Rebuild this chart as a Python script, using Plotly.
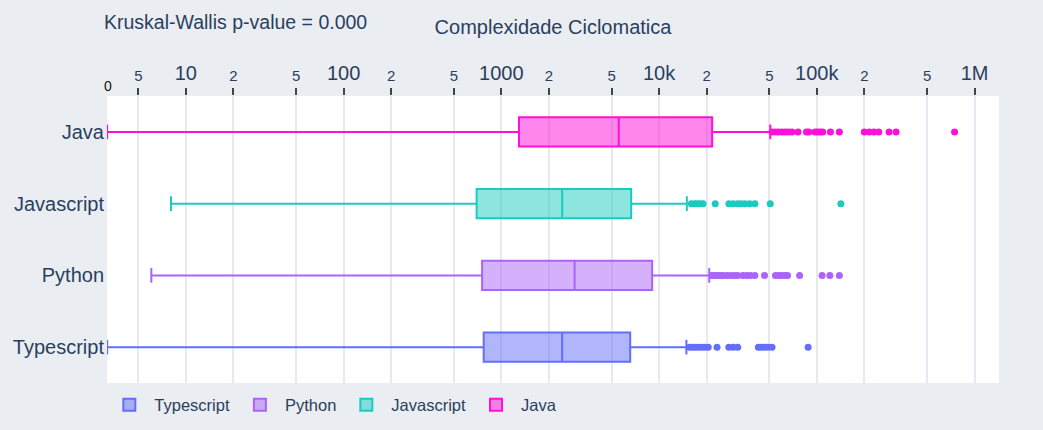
import plotly.graph_objects as go

# ---- data ----
languages = ["Typescript", "Python", "Javascript", "Java"]
colors = ["#636EFA", "#AB63FA", "#1ACBBE", "#FF10D9"]

lowerfence = [3.17, 6.04, 8.05, 3.17]
q1 = [773, 755, 697, 1294]
median = [2430, 2915, 2430, 5550]
q3 = [6560, 9040, 6650, 21700]
upperfence = [14900, 20800, 15000, 50700]

outliers_typescript = [15600, 16300, 17000, 17800, 18600, 19500, 20500, 23300, 27700, 29500,
                       31500, 42600, 44500, 46500, 49000, 52000, 88100]
outliers_python = [21600, 22500, 23500, 24500, 25500, 27000, 28500, 30000, 31500, 34000, 36000,
                   38000, 40500, 46600, 54700, 57500, 60000, 63000, 65200, 77800, 108000, 121000, 139000]
outliers_javascript = [16000, 16800, 17500, 18200, 19000, 22700, 27700, 29500, 31500, 33000,
                       35000, 37500, 40500, 50700, 142000]
outliers_java = [52000, 54500, 57000, 60000, 63000, 66000, 69500, 76000, 86000, 89000, 97500,
                 101000, 105000, 109000, 122000, 139000, 200000, 215000, 230000, 247000, 287000,
                 318000, 747000]
outliers = [outliers_typescript, outliers_python, outliers_javascript, outliers_java]

p_value_text = "Kruskal-Wallis p-value = 0.000"
axis_title = "Complexidade Ciclomatica"

FONT = "Liberation Sans, Arial, sans-serif"
TXT = "#2a3f5f"


def rgba(hex_color, a):
    c = hex_color.lstrip("#")
    return f"rgba({int(c[0:2], 16)},{int(c[2:4], 16)},{int(c[4:6], 16)},{a})"


fig = go.Figure()
for i, lang in enumerate(languages):
    fig.add_trace(go.Box(
        name=lang, y=[lang], orientation="h",
        q1=[q1[i]], median=[median[i]], q3=[q3[i]],
        lowerfence=[lowerfence[i]], upperfence=[upperfence[i]],
        boxpoints=False, width=0.41,
        line=dict(color=colors[i], width=2),
        fillcolor=rgba(colors[i], 0.5),
        legendgroup=lang,
    ))
for i, lang in enumerate(languages):
    fig.add_trace(go.Scatter(
        x=outliers[i], y=[lang] * len(outliers[i]), mode="markers",
        marker=dict(color=colors[i], size=7),
        showlegend=False, legendgroup=lang, hoverinfo="x",
    ))

fig.update_layout(
    width=1043, height=430,
    margin=dict(l=107, r=44, t=96, b=47, autoexpand=False),
    paper_bgcolor="#EAEDF1",
    plot_bgcolor="white",
    font=dict(family=FONT, size=20, color=TXT),
    showlegend=True,
    legend=dict(orientation="h", xref="paper", x=-0.003, xanchor="left",
                yref="container", y=0.058, yanchor="middle",
                itemwidth=40,
                font=dict(size=16.5, color=TXT), bgcolor="rgba(0,0,0,0)"),
    xaxis=dict(
        type="log", side="top", range=[0.5, 6.155],
        dtick="D2", showgrid=True, gridcolor="#E6EAEF", gridwidth=2,
        ticks="outside", ticklen=7, tickwidth=2, tickcolor="#444",
        tickfont=dict(size=20, color=TXT), zeroline=False, showline=False,
        title=dict(text=axis_title, font=dict(size=20, color=TXT), standoff=22),
    ),
    yaxis=dict(
        type="category", categoryorder="array", categoryarray=languages,
        range=[-0.5, 3.5], autorange=False,
        showgrid=False, zeroline=False, ticks="", tickfont=dict(size=20, color=TXT),
        ticklabelstandoff=2,
    ),
    annotations=[
        dict(text=p_value_text, xref="paper", yref="paper", x=-0.006, y=1.258,
             xanchor="left", yanchor="middle", showarrow=False,
             font=dict(size=19.5, color=TXT)),
        dict(text="0", xref="paper", yref="paper", x=0.001, y=1.035,
             xanchor="center", yanchor="middle", showarrow=False,
             font=dict(size=14, color="#111")),
    ],
)

fig.write_html("out.html")
